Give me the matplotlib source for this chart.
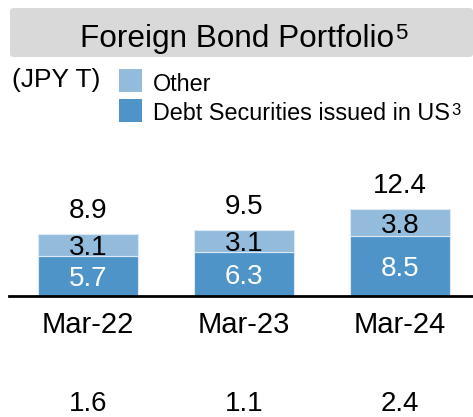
import matplotlib.pyplot as plt
from matplotlib.patches import FancyBboxPatch

plt.rcParams['font.family'] = ['Liberation Sans', 'DejaVu Sans']

periods = ['Mar-22', 'Mar-23', 'Mar-24']
us_debt = [5.7, 6.3, 8.5]
other = [3.1, 3.1, 3.8]
totals = [8.9, 9.5, 12.4]
bottom_row = ['1.6', '1.1', '2.4']

c_dark = '#4F94C8'
c_light = '#93BCDC'

W, H = 473, 417
fig = plt.figure(figsize=(W / 100, H / 100), dpi=100)

# bars axes first so annotations have a home
ax_bottom, ax_top = 296, 150
ax = fig.add_axes([9 / W, 1 - ax_bottom / H, 464 / W, (ax_bottom - ax_top) / H])
ax.set_zorder(2)

# title box
box = FancyBboxPatch((10 / W, 1 - 57 / H), 463 / W, 49 / H,
                     boxstyle='round,pad=0,rounding_size=0.008',
                     transform=fig.transFigure, facecolor='#D9D9D9',
                     edgecolor='none')
fig.patches.append(box)
title = fig.text(80 / W, 1 - 47 / H, 'Foreign Bond Portfolio', fontsize=22.7,
                 ha='left', va='baseline')
ax.annotate('5', xy=(1, 1), xycoords=title, xytext=(1, 1),
            textcoords='offset points', ha='left', va='top', fontsize=16,
            annotation_clip=False)

# unit + legend
fig.text(12 / W, 1 - 87 / H, '(JPY T)', fontsize=19, ha='left', va='baseline')
fig.patches.append(plt.Rectangle((119 / W, 1 - 92 / H), 23 / W, 23 / H,
                                 transform=fig.transFigure, facecolor=c_light))
fig.patches.append(plt.Rectangle((119 / W, 1 - 122 / H), 23 / W, 23 / H,
                                 transform=fig.transFigure, facecolor=c_dark))
fig.text(153 / W, 1 - 91 / H, 'Other', fontsize=16.8, ha='left', va='baseline')
leg2 = fig.text(153 / W, 1 - 120 / H, 'Debt Securities issued in US',
                fontsize=16.8, ha='left', va='baseline')
ax.annotate('3', xy=(1, 1), xycoords=leg2, xytext=(1, -1),
            textcoords='offset points', ha='left', va='top', fontsize=12,
            annotation_clip=False)

x = list(range(len(periods)))
ax.bar(x, us_debt, width=0.645, color=c_dark, edgecolor='#DCE9F5', linewidth=0.8)
ax.bar(x, other, width=0.645, bottom=us_debt, color=c_light,
       edgecolor='#DCE9F5', linewidth=0.8)
ax.set_xlim(-0.506, 2.468)
ax.set_ylim(0, (ax_bottom - ax_top) / 7.05)

for i in x:
    ax.text(i, us_debt[i] / 2, f'{us_debt[i]:.1f}', ha='center',
            va='center_baseline', fontsize=20, color='white')
    ax.text(i, us_debt[i] + other[i] / 2, f'{other[i]:.1f}', ha='center',
            va='center_baseline', fontsize=20, color='black')
    ax.annotate(f'{totals[i]:.1f}', xy=(i, us_debt[i] + other[i]),
                xytext=(0, 16.5), textcoords='offset points', ha='center',
                va='center', fontsize=20)
    ax.annotate(bottom_row[i], xy=(i, 0), xytext=(0, -78),
                textcoords='offset points', ha='center', va='center',
                fontsize=20, annotation_clip=False)

for s in ['top', 'left', 'right']:
    ax.spines[s].set_visible(False)
ax.spines['bottom'].set_linewidth(2)
ax.set_yticks([])
ax.set_xticks(x)
ax.set_xticklabels(periods, fontsize=21)
ax.tick_params(axis='x', length=0, pad=11)
ax.patch.set_visible(False)

fig.savefig('out.png', dpi=100)
